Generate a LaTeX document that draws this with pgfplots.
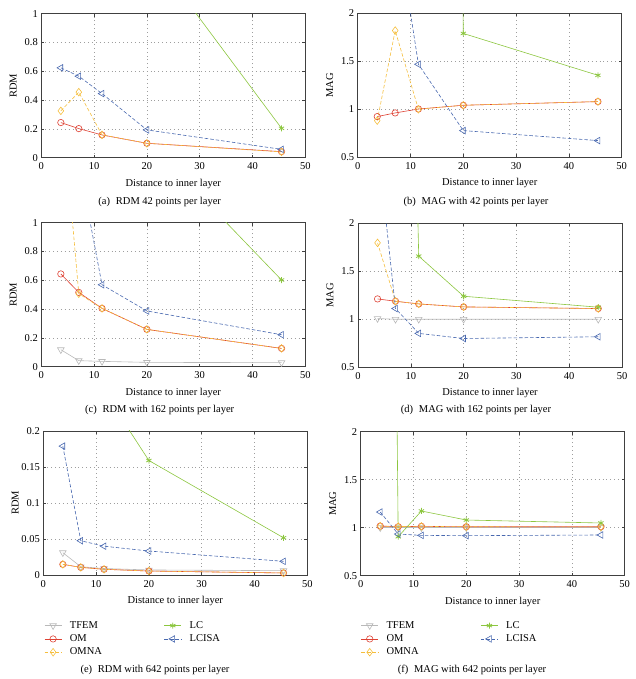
\documentclass[border=0pt]{standalone}
\usepackage{fontspec}
\setmainfont{Liberation Serif}
\usepackage{pgfplots}
\pgfplotsset{compat=1.18}
\usepackage{pgfplotstable}

\definecolor{cTF}{RGB}{185,185,185}
\definecolor{cOM}{RGB}{222,66,52}
\definecolor{cOMNA}{RGB}{245,190,60}
\definecolor{cLC}{RGB}{140,198,63}
\definecolor{cLCISA}{RGB}{72,104,175}
\newcommand\fs{\fontsize{10.5bp}{12.6bp}\selectfont}

% x: distance to inner layer
\pgfplotstableread{
x    OM     OMNA   LC     LCISA
3.7  0.244  0.325  10     0.624
7.1  0.202  0.455  5      0.566
11.5 0.158  0.158  3      0.445
20   0.100  0.100  1.46   0.193
45.5 0.042  0.040  0.204  0.058
}\tabA
\pgfplotstableread{
x    OM     OMNA   LC     LCISA
3.7  0.924  0.882  80     8
7.1  0.962  1.820  60     3.03
11.5 1.003  1.000  50     1.469
20   1.042  1.042  1.79   0.778
45.5 1.080  1.080  1.354  0.674
}\tabB
\pgfplotstableread{
x    TF     OM     OMNA   LC     LCISA
3.7  0.118  0.644  1.93   8      3
7.1  0.042  0.516  0.507  5      1.42
11.5 0.037  0.405  0.405  3      0.569
20   0.030  0.259  0.259  1.574  0.387
45.5 0.028  0.127  0.127  0.602  0.222
}\tabC
\pgfplotstableread{
x    TF     OM     OMNA   LC     LCISA
3.7  1.008  1.212  1.796  40     2.85
7.1  1.000  1.188  1.188  12     1.112
11.5 1.000  1.160  1.160  1.658  0.853
20   1.000  1.129  1.129  1.240  0.800
45.5 1.000  1.112  1.112  1.126  0.818
}\tabD
\pgfplotstableread{
x    TF      OM      OMNA    LC      LCISA
3.7  0.031   0.0148  0.0148  1       0.179
7.1  0.0115  0.0106  0.0106  0.5     0.0476
11.5 0.009   0.0079  0.0079  0.255   0.040
20   0.007   0.0055  0.0055  0.159   0.0333
45.5 0.006   0.0028  0.0028  0.0517  0.019
}\tabE
\pgfplotstableread{
x    TF     OM     OMNA   LC     LCISA
3.7  1.000  1.017  1.017  20     1.163
7.1  1.000  1.010  1.012  0.906  0.934
11.5 1.000  1.014  1.014  1.174  0.920
20   1.000  1.010  1.010  1.080  0.917
45.5 1.000  1.010  1.008  1.049  0.924
}\tabF

\pgfplotsset{
  sub/.style={
    scale only axis, width=264bp, height=144bp, anchor=south west,
    xmin=0, xmax=50, xtick={0,10,20,30,40,50},
    grid=major,
    major grid style={draw=black!38, dash pattern=on 0.7bp off 3.2bp, line width=0.55bp},
    axis line style={black!75, line width=0.6bp},
    tick align=inside, major tick length=3bp,
    tick style={black!75, line width=0.5bp},
    tick label style={font=\fs},
    xticklabel style={yshift=-1.5bp},
    label style={font=\fs},
    xlabel={Distance to inner layer},
    xlabel style={at={(axis description cs:0.5,-0.18)}, anchor=center},
    ylabel style={at={(axis description cs:-0.106,0.5)}, anchor=center},
    /pgf/number format/assume math mode=true,
    scaled y ticks=false,
    yticklabel style={/pgf/number format/fixed, /pgf/number format/precision=2},
    legend columns=2, legend cell align=left,
    legend style={draw=none, fill=none, anchor=north west,
      inner xsep=0bp, inner ysep=0bp, font=\fs, row sep=3.7bp,
      nodes={inner sep=0bp, text height=7.3bp, text depth=2.3bp},
      /tikz/every odd column/.append style={column sep=8bp},
      /tikz/every even column/.append style={column sep=62bp}},
  },
  tfem/.style={color=cTF, line width=0.6bp, mark=triangle, mark size=3.8bp,
    mark options={rotate=180, solid, fill=none}},
  om/.style={color=cOM, line width=0.6bp, mark=o, mark size=3.2bp,
    mark options={solid, fill=none}},
  omna/.style={color=cOMNA, line width=0.6bp, dash pattern=on 3.5bp off 2bp,
    mark=diamond, mark size=3.8bp, mark options={solid, fill=none}},
  lc/.style={color=cLC, line width=0.6bp, mark=asterisk, mark size=3bp,
    mark options={solid, line width=0.8bp}},
  lcisa/.style={color=cLCISA, line width=0.6bp, dash pattern=on 3.5bp off 2bp,
    mark=triangle, mark size=3.8bp, mark options={rotate=90, solid, fill=none}},
}

\begin{document}
\begin{tikzpicture}[x=1bp,y=1bp]
\path[use as bounding box] (0,0) rectangle (636,679);

% (a)
\begin{axis}[sub, at={(41.3bp,521.3bp)}, ymin=0, ymax=1,
  ytick={0,0.2,0.4,0.6,0.8,1}, ylabel={RDM}]
\addplot[om]    table[x=x,y=OM]{\tabA};
\addplot[omna]  table[x=x,y=OMNA]{\tabA};
\addplot[lc]    table[x=x,y=LC]{\tabA};
\addplot[lcisa] table[x=x,y=LCISA]{\tabA};
\end{axis}

% (b)
\begin{axis}[sub, at={(357.7bp,521.7bp)}, ymin=0.5, ymax=2,
  ytick={0.5,1,1.5,2}, ylabel={MAG}]
\addplot[om]    table[x=x,y=OM]{\tabB};
\addplot[omna]  table[x=x,y=OMNA]{\tabB};
\addplot[lc]    table[x=x,y=LC]{\tabB};
\addplot[lcisa] table[x=x,y=LCISA]{\tabB};
\end{axis}

% (c)
\begin{axis}[sub, at={(41.3bp,312.3bp)}, ymin=0, ymax=1,
  ytick={0,0.2,0.4,0.6,0.8,1}, ylabel={RDM}]
\addplot[tfem]  table[x=x,y=TF]{\tabC};
\addplot[om]    table[x=x,y=OM]{\tabC};
\addplot[omna]  table[x=x,y=OMNA]{\tabC};
\addplot[lc]    table[x=x,y=LC]{\tabC};
\addplot[lcisa] table[x=x,y=LCISA]{\tabC};
\end{axis}

% (d)
\begin{axis}[sub, at={(358bp,311.7bp)}, ymin=0.5, ymax=2,
  ytick={0.5,1,1.5,2}, ylabel={MAG}]
\addplot[tfem]  table[x=x,y=TF]{\tabD};
\addplot[om]    table[x=x,y=OM]{\tabD};
\addplot[omna]  table[x=x,y=OMNA]{\tabD};
\addplot[lc]    table[x=x,y=LC]{\tabD};
\addplot[lcisa] table[x=x,y=LCISA]{\tabD};
\end{axis}

% (e)
\begin{axis}[sub, at={(43.3bp,104bp)}, ymin=0, ymax=0.2,
  ytick={0,0.05,0.1,0.15,0.2}, ylabel={RDM},
  legend style={at={(axis description cs:0.003,-0.317)}}]
\addplot[tfem, forget plot]  table[x=x,y=TF]{\tabE};
\addplot[om, forget plot]    table[x=x,y=OM]{\tabE};
\addplot[omna, forget plot]  table[x=x,y=OMNA]{\tabE};
\addplot[lc, forget plot]    table[x=x,y=LC]{\tabE};
\addplot[lcisa, forget plot] table[x=x,y=LCISA]{\tabE};
\addlegendimage{tfem}\addlegendentry{TFEM}
\addlegendimage{lc}\addlegendentry{LC}
\addlegendimage{om}\addlegendentry{OM}
\addlegendimage{lcisa}\addlegendentry{LCISA}
\addlegendimage{omna}\addlegendentry{OMNA}
\end{axis}

% (f)
\begin{axis}[sub, at={(360.7bp,103.3bp)}, ymin=0.5, ymax=2,
  ytick={0.5,1,1.5,2}, ylabel={MAG},
  legend style={at={(axis description cs:0,-0.312)}}]
\addplot[tfem, forget plot]  table[x=x,y=TF]{\tabF};
\addplot[om, forget plot]    table[x=x,y=OM]{\tabF};
\addplot[omna, forget plot]  table[x=x,y=OMNA]{\tabF};
\addplot[lc, forget plot]    table[x=x,y=LC]{\tabF};
\addplot[lcisa, forget plot] table[x=x,y=LCISA]{\tabF};
\addlegendimage{tfem}\addlegendentry{TFEM}
\addlegendimage{lc}\addlegendentry{LC}
\addlegendimage{om}\addlegendentry{OM}
\addlegendimage{lcisa}\addlegendentry{LCISA}
\addlegendimage{omna}\addlegendentry{OMNA}
\end{axis}

% captions
\node[font=\fs] at (159.7,477) {(a)\hspace{0.55em}RDM 42 points per layer};
\node[font=\fs] at (476,477) {(b)\hspace{0.55em}MAG with 42 points per layer};
\node[font=\fs] at (159.7,268.7) {(c)\hspace{0.55em}RDM with 162 points per layer};
\node[font=\fs] at (476,268.7) {(d)\hspace{0.55em}MAG with 162 points per layer};
\node[font=\fs] at (155,9) {(e)\hspace{0.55em}RDM with 642 points per layer};
\node[font=\fs] at (472,9) {(f)\hspace{0.55em}MAG with 642 points per layer};
\end{tikzpicture}
\end{document}
